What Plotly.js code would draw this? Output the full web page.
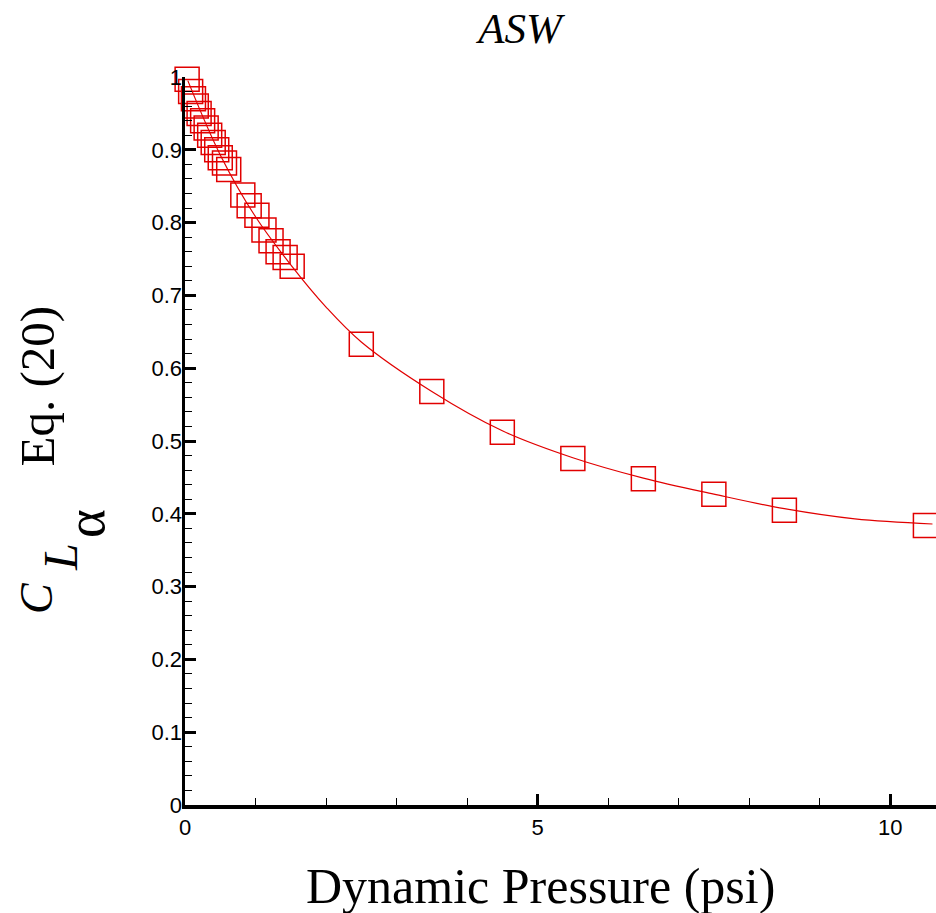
<!DOCTYPE html>
<html>
<head>
<meta charset="utf-8">
<script src="https://cdn.plot.ly/plotly-3.0.1.min.js"></script>
<style>html,body{margin:0;padding:0;background:#fff;}#chart{width:936px;height:913px;}</style>
</head>
<body>
<div id="chart"></div>
<script>
// Measured data (squares)
const pressure = [0.03, 0.08, 0.12, 0.16, 0.2, 0.25, 0.3, 0.35, 0.4, 0.45, 0.5, 0.56, 0.62,
                  0.82, 0.91, 1.02, 1.12, 1.22, 1.32, 1.42, 1.52,
                  2.5, 3.5, 4.5, 5.5, 6.5, 7.5, 8.5, 10.5];
const clAlpha = [0.997, 0.980, 0.970, 0.960, 0.950, 0.940, 0.930, 0.920, 0.910, 0.900, 0.889, 0.882, 0.873,
                 0.838, 0.823, 0.810, 0.790, 0.775, 0.760, 0.752, 0.740,
                 0.633, 0.568, 0.512, 0.476, 0.448, 0.427, 0.405, 0.384];
// Fitted curve (Eq. 20)
const curveX = [0.04, 0.5, 1.0, 1.5, 2.0, 2.5, 3.5, 4.5, 5.5, 6.5, 7.5, 8.5, 9.5, 10.6];
const curveY = [0.995, 0.893, 0.808, 0.742, 0.684, 0.636, 0.568, 0.514, 0.477, 0.449, 0.427, 0.407, 0.393, 0.386];

const xTitle = 'Dynamic Pressure (psi)';
const yTitleEq = 'Eq. (20)';
const yTitleC = '<i>C</i>';
const yTitleL = '<i>L</i>';
const yTitleAlpha = 'α';
const chartTitle = '<i>ASW</i>';

const red = 'rgb(225,0,0)';
const serif = 'Liberation Serif, Times New Roman, serif';
const data = [
  {x: curveX, y: curveY, type: 'scatter', mode: 'lines', line: {color: red, width: 1.2, shape: 'spline'}, hoverinfo: 'skip', showlegend: false, cliponaxis: false},
  {x: pressure, y: clAlpha, type: 'scatter', mode: 'markers', marker: {symbol: 'square-open', size: 24, color: red, line: {width: 1.5, color: red}}, showlegend: false, cliponaxis: false}
];
const tickFont = {family: 'Liberation Sans, Arial, sans-serif', size: 22, color: '#000'};
// helpers converting page pixels to paper coords (plot area: x 185..936, y 77..805)
const px = v => (v - 185) / 751;
const py = v => (805 - v) / 728;
const ann = (text, x, y, size, angle) => ({text: text, xref: 'paper', yref: 'paper', x: px(x), y: py(y), xanchor: 'center', yanchor: 'middle', showarrow: false, textangle: angle, font: {family: serif, size: size, color: '#000'}});
const layout = {
  width: 936, height: 913,
  margin: {l: 185, r: 0, t: 77, b: 108},
  paper_bgcolor: '#fff', plot_bgcolor: '#fff',
  title: {text: chartTitle, font: {family: serif, size: 43, color: '#000'}, x: 0.5556, xref: 'container', xanchor: 'center', y: 0.969, yref: 'container', yanchor: 'middle'},
  xaxis: {
    range: [0, 10.65], tick0: 0, dtick: 5, ticks: 'inside', ticklen: 11, tickwidth: 3, tickcolor: '#000',
    showline: true, linewidth: 3.5, linecolor: '#000', showgrid: false, zeroline: false, mirror: false,
    minor: {dtick: 1, ticks: 'inside', ticklen: 7, tickwidth: 1, tickcolor: '#000', showgrid: false},
    tickfont: tickFont, ticklabelstandoff: 0
  },
  yaxis: {
    range: [0, 1], tick0: 0, dtick: 0.1, ticks: 'inside', ticklen: 11, tickwidth: 3, tickcolor: '#000',
    showline: true, linewidth: 3.5, linecolor: '#000', showgrid: false, zeroline: false,
    minor: {dtick: 0.02, ticks: 'inside', ticklen: 7, tickwidth: 1, tickcolor: '#000', showgrid: false},
    tickfont: tickFont, ticklabelstandoff: -5
  },
  annotations: [
    ann(xTitle, 540, 886, 50, 0),
    ann(yTitleEq, 36.5, 386, 49, -90),
    ann(yTitleC, 36, 598, 46, -90),
    ann(yTitleL, 60, 557, 48, -90),
    ann(yTitleAlpha, 85, 523, 55, -90)
  ]
};
Plotly.newPlot('chart', data, layout, {displayModeBar: false, staticPlot: true});
</script>
</body>
</html>
